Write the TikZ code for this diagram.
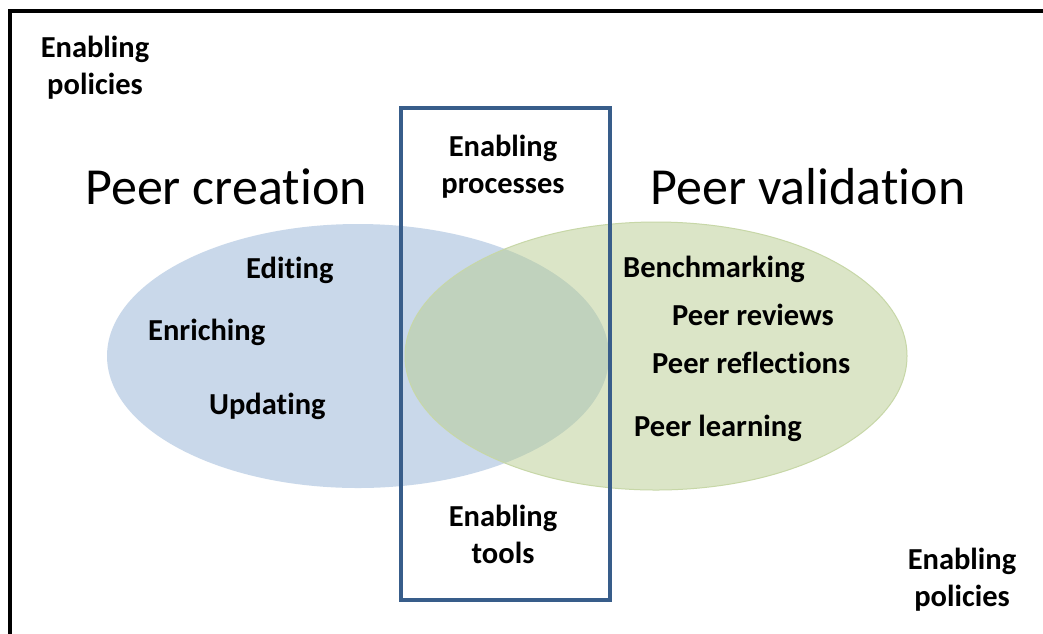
\documentclass[tikz,border=0pt]{standalone}
\usepackage{fontspec}
\setmainfont[Ligatures={NoCommon}]{Carlito}
\definecolor{frameblue}{RGB}{56,93,138}
\definecolor{ellblue}{RGB}{149,179,215}
\definecolor{ellgreen}{RGB}{185,205,145}
\tikzset{
  lbl/.style={font=\fontsize{30.5}{37}\selectfont\bfseries, inner sep=0pt, align=center},
  ttl/.style={font=\fontsize{52}{60}\selectfont, inner sep=0pt},
}
\begin{document}
\begin{tikzpicture}[x=1pt,y=-1pt]
\useasboundingbox (0,0) rectangle (1043,633);
\clip (0,0) rectangle (1043,633);
\fill[white] (0,0) rectangle (1043,633);
% outer frame
\draw[line width=4pt] (10,660) -- (10,11) -- (1070,11);
% ellipses
\fill[ellblue, opacity=0.5] (358,356) ellipse [x radius=251, y radius=132];
\fill[ellgreen, opacity=0.5] (656,356) ellipse [x radius=251, y radius=134];
\draw[ellgreen!80!white, line width=1pt] (656,356) ellipse [x radius=251, y radius=134];
% central box
\draw[frameblue, line width=3.5pt] (401,108) rectangle (610,600);
% titles
\node[ttl] (pc) at (226,187) {Peer creation};
\node[ttl] (pv) at (808,187) {Peer validation};
% box labels
\node[lbl] (ep) at (503,167) {Enabling\\processes};
\node[lbl] (et) at (503,534) {Enabling\\tools};
\node[lbl] (pol1) at (95,68) {Enabling\\policies};
\node[lbl] (pol2) at (962,580) {Enabling\\policies};
% left items
\node[lbl, anchor=mid west] (ed) at (246,276) {Editing};
\node[lbl, anchor=mid west] (en) at (148,338) {Enriching};
\node[lbl, anchor=mid west] (up) at (209,412) {Updating};
% right items
\node[lbl, anchor=mid west] (bm) at (623,275) {Benchmarking};
\node[lbl, anchor=mid west] (pr) at (672,323) {Peer reviews};
\node[lbl, anchor=mid west] (pf) at (652,371) {Peer reflections};
\node[lbl, anchor=mid west] (pl) at (634,434) {Peer learning};
\end{tikzpicture}
\end{document}
